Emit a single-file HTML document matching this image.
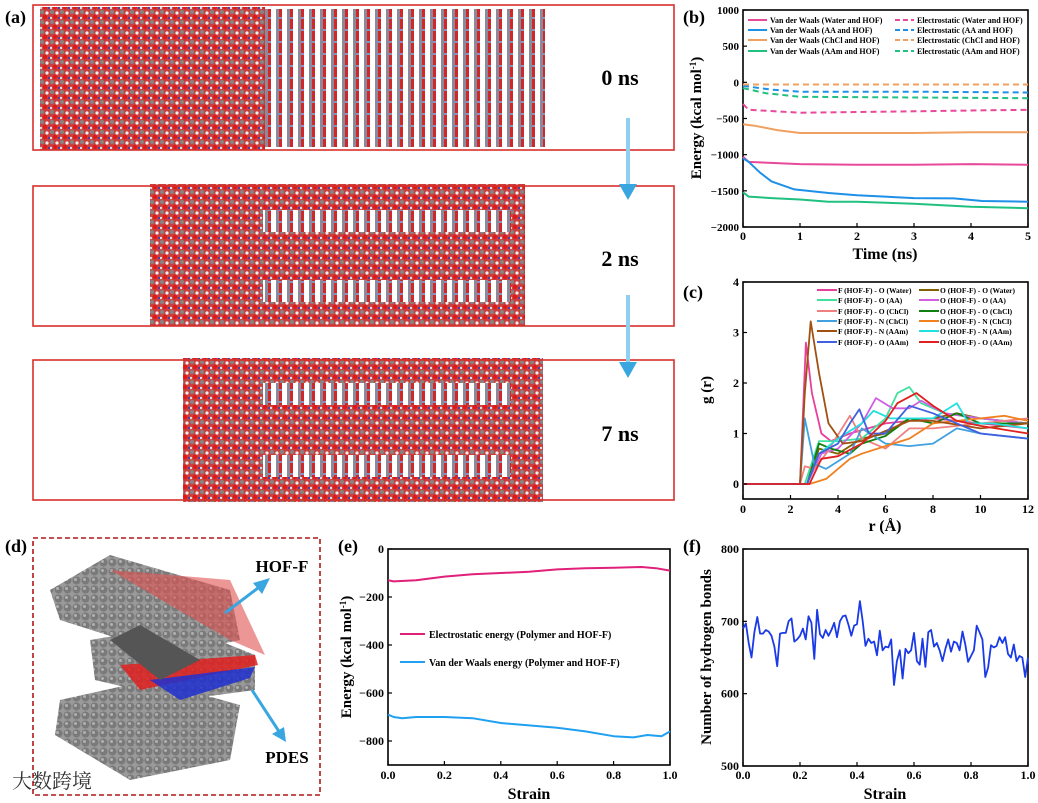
<!DOCTYPE html>
<html><head><meta charset="utf-8"><style>
html,body{margin:0;padding:0;background:#fff;}
svg{display:block;font-family:"Liberation Serif","Noto Serif CJK SC",serif;}
.t{font-weight:bold;fill:#000;}
</style></head><body>
<svg id="fig" width="1038" height="803" viewBox="0 0 1038 803" xmlns="http://www.w3.org/2000/svg">
<defs>
<pattern id="mol" width="10" height="10" patternUnits="userSpaceOnUse">
<rect width="10" height="10" fill="#c84040"/>
<circle cx="2" cy="2" r="2" fill="#858585"/>
<circle cx="7" cy="3" r="1.6" fill="#eeeeee"/>
<circle cx="5" cy="7" r="2.2" fill="#e01818"/>
<circle cx="1" cy="8" r="1.2" fill="#dddddd"/>
<circle cx="9" cy="8" r="1" fill="#3040c0"/>
</pattern>
<pattern id="hof" width="11" height="12" patternUnits="userSpaceOnUse">
<rect width="11" height="12" fill="#ffffff"/>
<rect x="1" width="3" height="12" fill="#8a8a9a"/>
<rect x="4" width="3" height="12" fill="#d02828"/>
<rect x="4" y="5" width="3" height="2" fill="#9090c0"/>
</pattern>
<pattern id="sph" width="9" height="9" patternUnits="userSpaceOnUse">
<rect width="9" height="9" fill="#9a9a9a"/>
<circle cx="4.5" cy="4.5" r="4" fill="#7a7a7a"/>
<circle cx="3.5" cy="3.5" r="1.5" fill="#b0b0b0"/>
</pattern>
</defs>
<g id="root"></g>
</svg>
<script>
// ---------- Panel b data ----------
const bVdwWaterT=[0,0.1,1,2,3,4,5];
const bVdwWaterV=[-1030,-1100,-1130,-1140,-1140,-1130,-1140];
const bVdwAAT=[0,0.1,0.3,0.5,0.9,1.5,2,3,3.7,4.2,5];
const bVdwAAV=[-1050,-1100,-1250,-1370,-1480,-1530,-1560,-1600,-1605,-1640,-1650];
const bVdwChClT=[0,0.2,0.6,1,2,3,4,5];
const bVdwChClV=[-580,-600,-660,-700,-700,-700,-690,-690];
const bVdwAAmT=[0,0.1,0.5,1,1.5,2,3,4,5];
const bVdwAAmV=[-1520,-1580,-1600,-1620,-1650,-1650,-1680,-1720,-1740];
const bElWaterT=[0,0.1,1,2,3,4,5];
const bElWaterV=[-300,-380,-420,-410,-400,-390,-380];
const bElAAT=[0,0.5,1,3,5];
const bElAAV=[-50,-100,-130,-130,-140];
const bElChClT=[0,1,2,3,4,5];
const bElChClV=[-30,-30,-30,-30,-30,-30];
const bElAAmT=[0,0.4,1,3,5];
const bElAAmV=[-80,-150,-200,-210,-220];
const bYTicks=[1000,500,0,-500,-1000,-1500,-2000];
const bXTicks=[0,1,2,3,4,5];
const bLegend=["Van der Waals (Water and HOF)","Van der Waals (AA and HOF)","Van der Waals (ChCl and HOF)","Van der Waals (AAm and HOF)","Electrostatic (Water and HOF)","Electrostatic (AA and HOF)","Electrostatic (ChCl and HOF)","Electrostatic (AAm and HOF)"];
// ---------- Panel c data ----------
const cNames=["F (HOF-F) - O (Water)","O (HOF-F) - O (Water)","F (HOF-F) - O (AA)","O (HOF-F) - O (AA)","F (HOF-F) - O (ChCl)","O (HOF-F) - O (ChCl)","F (HOF-F) - N (ChCl)","O (HOF-F) - N (ChCl)","F (HOF-F) - N (AAm)","O (HOF-F) - N (AAm)","F (HOF-F) - O (AAm)","O (HOF-F) - O (AAm)"];
const cR1=[0,2.4,2.65,2.9,3.3,3.7,4.5,6,8,10,12];
const cG1=[0,0,2.8,1.8,1.0,0.85,1.0,1.2,1.3,1.2,1.1];
const cR2=[0,2.7,3.2,4,5,6,7,8,9,10,12];
const cG2=[0,0,0.7,0.6,0.9,1.0,1.3,1.3,1.4,1.3,1.2];
const cR3=[0,2.6,3.2,4,5,6,6.5,7,7.5,8.5,10,12];
const cG3=[0,0,0.85,0.85,0.9,1.3,1.8,1.92,1.6,1.4,1.3,1.2];
const cR4=[0,2.7,3.3,4,5,5.6,6.3,7,7.5,8.5,10,12];
const cG4=[0,0,0.6,0.7,1.2,1.7,1.5,1.5,1.65,1.4,1.3,1.2];
const cR5=[0,2.4,2.6,3,3.5,4.5,5,6,7,8,10,12];
const cG5=[0,0,0.35,0.3,0.6,1.35,0.9,0.7,1.1,1.1,1.2,1.3];
const cR6=[0,2.7,3.2,3.7,4.5,5,6,7,8,9,10,12];
const cG6=[0,0,0.8,0.7,0.6,0.8,0.95,1.3,1.2,1.4,1.2,1.2];
const cR7=[0,2.4,2.6,3,3.5,4.5,5,6,7,8,9,10,12];
const cG7=[0,0,1.3,0.4,0.3,0.6,1.1,0.8,0.75,0.8,1.1,1.0,0.9];
const cR8=[0,2.8,3.5,4.5,5,6,7,8,10,11,12];
const cG8=[0,0,0.1,0.5,0.6,0.75,0.9,1.2,1.3,1.35,1.25];
const cR9=[0,2.4,2.6,2.85,3.2,3.6,4.2,5,6,7,8,10,12];
const cG9=[0,0,1.8,3.22,2.2,1.2,0.8,0.85,1.05,1.25,1.25,1.1,1.2];
const cR10=[0,2.7,3.2,4,5,5.5,6.2,7,8,9,9.5,10.5,12];
const cG10=[0,0,0.6,0.9,1.2,1.45,1.3,1.3,1.3,1.6,1.2,1.2,1.1];
const cR11=[0,2.7,3.2,4,4.5,4.9,5.3,6,7,8,9,10,12];
const cG11=[0,0,0.6,0.8,1.2,1.48,1.0,1.0,1.55,1.4,1.2,1.0,0.9];
const cR12=[0,2.8,3.3,4,5,6,6.5,7.3,8,9,10,12];
const cG12=[0,0,0.5,0.55,0.8,1.25,1.6,1.8,1.55,1.25,1.15,1.0];
const cYTicks=[0,1,2,3,4];
const cXTicks=[0,2,4,6,8,10,12];
// ---------- Panel e data ----------
const eElS=[0,0.02,0.1,0.2,0.3,0.4,0.5,0.6,0.7,0.8,0.9,0.95,1];
const eElV=[-130,-135,-130,-115,-105,-100,-95,-85,-80,-78,-75,-80,-90];
const eVdwS=[0,0.02,0.05,0.1,0.2,0.3,0.4,0.5,0.6,0.7,0.8,0.87,0.92,0.97,1];
const eVdwV=[-690,-700,-705,-700,-700,-705,-725,-735,-745,-760,-780,-785,-775,-780,-760];
const eYTicks=[0,-200,-400,-600,-800];
const eXTicks=[0,0.2,0.4,0.6,0.8,1.0];
// ---------- Panel f data ----------
const fHB=[690,697,670,650,685,706,683,683,688,686,680,665,638,683,684,684,700,704,672,675,680,690,675,707,698,648,716,682,677,688,680,688,698,678,700,707,708,695,680,694,696,728,700,666,676,670,672,653,687,660,665,664,675,612,645,660,621,662,656,660,684,645,640,676,637,685,688,665,670,660,645,662,675,658,672,670,660,686,668,644,652,660,694,685,675,623,636,667,664,666,678,670,678,655,650,668,645,652,650,623,650];
const fYTicks=[800,700,600,500];
const fXTicks=[0,0.2,0.4,0.6,0.8,1.0];

const NS="http://www.w3.org/2000/svg";
const root=document.getElementById('root');
function mk(tag,attrs,parent){const e=document.createElementNS(NS,tag);for(const k in attrs)e.setAttribute(k,attrs[k]);(parent||root).appendChild(e);return e;}
function txt(x,y,s,size,anchor,parent,extra){const e=mk('text',Object.assign({x:x,y:y,'font-size':size,'text-anchor':anchor||'start',class:'t'},extra||{}),parent);e.textContent=s;return e;}

const xb=t=>743+t*57, yb=v=>10+(1000-v)*0.07233;
const xc=r=>743+r*23.75, yc=g=>484-g*50.5;
const xe=s=>388+s*282, ye=v=>549-v*0.24;
const xf=s=>743+s*285, yf=v=>549+(800-v)*0.7233;

function frame(name,x0,y0,x1,y1){const g=mk('g',{});mk('rect',{x:x0,y:y0,width:x1-x0,height:y1-y0,fill:'none',stroke:'#000','stroke-width':1.6},g);return g;}
function line(xs,ys,fx,fy,color,dash,name,w){let d='';for(let i=0;i<xs.length;i++)d+=(i?'L':'M')+fx(xs[i]).toFixed(1)+','+fy(ys[i]).toFixed(1);const p=mk('path',{d:d,fill:'none',stroke:color,'stroke-width':w||2,'stroke-linejoin':'round'});if(dash)p.setAttribute('stroke-dasharray',dash);return p;}
function yticks(ticks,fy,x0,fmt,size){const g=mk('g',{});ticks.forEach(v=>{const y=fy(v);mk('line',{x1:x0,y1:y,x2:x0+4,y2:y,stroke:'#000','stroke-width':1.2},g);txt(x0-4,y+4,fmt?fmt(v):String(v).replace('-','\u2212'),size||12,'end',g);});}
function xticks(ticks,fx,y1,ylab,fmt,size){const g=mk('g',{});ticks.forEach(v=>{const x=fx(v);mk('line',{x1:x,y1:y1,x2:x,y2:y1-4,stroke:'#000','stroke-width':1.2},g);txt(x,ylab,fmt?fmt(v):String(v),size||12,'middle',g);});}

// ===== Panel labels =====
[['(a)',5,23],['(b)',683,23],['(c)',683,298],['(d)',5,552],['(e)',338,552],['(f)',683,552]].forEach(l=>{const e=txt(l[1],l[2],l[0],18,'start');});

// ===== Panel a =====
const pa=mk('g',{});
mk('rect',{x:40,y:7,width:225,height:143,fill:'url(#mol)'},pa);
mk('rect',{x:265,y:9,width:280,height:138,fill:'url(#hof)'},pa);
mk('rect',{x:150,y:184,width:375,height:142,fill:'url(#mol)'},pa);
mk('rect',{x:263,y:210,width:248,height:22,fill:'url(#hof)'},pa);
mk('rect',{x:263,y:280,width:248,height:22,fill:'url(#hof)'},pa);
mk('rect',{x:183,y:358,width:360,height:144,fill:'url(#mol)'},pa);
mk('rect',{x:263,y:383,width:248,height:22,fill:'url(#hof)'},pa);
mk('rect',{x:263,y:455,width:248,height:22,fill:'url(#hof)'},pa);
[[5,150],[186,326],[360,500]].forEach((b,i)=>{const r=mk('rect',{x:33,y:b[0],width:641,height:b[1]-b[0],fill:'none',stroke:'#d8302a','stroke-width':1.6},pa);});
[['0 ns',85],['2 ns',266],['7 ns',441]].forEach(l=>{const e=txt(620,l[1],l[0],22,'middle',pa);});
[[118,200],[295,378]].forEach(a=>{const g=mk('g',{},pa);mk('rect',{x:626,y:a[0],width:4,height:a[1]-a[0]-14,fill:'#8fd0f0'},g);mk('polygon',{points:`619,${a[1]-16} 637,${a[1]-16} 628,${a[1]}`,fill:'#3aa6e0'},g);});

// ===== Panel b =====
frame('panel-b-plot-frame',743,10,1028,227);
line(bVdwWaterT,bVdwWaterV,xb,yb,'#e8499a',null,'vdw-water-line');
line(bVdwAAT,bVdwAAV,xb,yb,'#1e90e8',null,'vdw-aa-line');
line(bVdwChClT,bVdwChClV,xb,yb,'#f0a060',null,'vdw-chcl-line');
line(bVdwAAmT,bVdwAAmV,xb,yb,'#20c080',null,'vdw-aam-line');
line(bElWaterT,bElWaterV,xb,yb,'#e8499a','6,4','elec-water-line');
line(bElAAT,bElAAV,xb,yb,'#1e90e8','6,4','elec-aa-line');
line(bElChClT,bElChClV,xb,yb,'#f0a060','6,4','elec-chcl-line');
line(bElAAmT,bElAAmV,xb,yb,'#20c080','6,4','elec-aam-line');
yticks(bYTicks,yb,743,null,11);
xticks(bXTicks,xb,227,240,null,12);
{const e=txt(885,259,'Time (ns)',16,'middle');}
{const e=txt(0,0,'',15,'middle',null,{transform:'translate(701,118) rotate(-90)'});e.innerHTML='Energy (kcal mol<tspan dy="-5" font-size="9">-1</tspan><tspan dy="5">)</tspan>';}
const bCols=['#e8499a','#1e90e8','#f0a060','#20c080'];
const bLeg=mk('g',{});
bLegend.forEach((s,i)=>{const col=i%4,y=[23,33,43,54][col];const x=i<4?748:895;mk('line',{x1:x,y1:y-3,x2:x+19,y2:y-3,stroke:bCols[col],'stroke-width':2,'stroke-dasharray':i<4?'none':'5,3'},bLeg);txt(x+22,y,s,8,'start',bLeg);});

// ===== Panel c =====
frame('panel-c-plot-frame',743,282,1028,499);
const cCols=['#e8409a','#806000','#40e0a0','#d060e0','#f08080','#108010','#40a0e0','#f08020','#a05010','#20e0e0','#4060e0','#e02020'];
const cRs=[cR1,cR2,cR3,cR4,cR5,cR6,cR7,cR8,cR9,cR10,cR11,cR12];
const cGs=[cG1,cG2,cG3,cG4,cG5,cG6,cG7,cG8,cG9,cG10,cG11,cG12];
cRs.forEach((r,i)=>line(r,cGs[i],xc,yc,cCols[i],null,'rdf-line-'+(i+1),1.8));
yticks(cYTicks,yc,743,null,12);
xticks(cXTicks,xc,499,513,null,12);
{const e=txt(885,531,'r (Å)',16,'middle');}
{const e=txt(0,0,'g (r)',15,'middle',null,{transform:'translate(711,390) rotate(-90)'});}
const cLeg=mk('g',{});
cNames.forEach((s,i)=>{const row=Math.floor(i/2),y=[293,303,314,324,334,345][row];const x=i%2?919:817;mk('line',{x1:x,y1:y-3,x2:x+20,y2:y-3,stroke:cCols[i],'stroke-width':2},cLeg);txt(x+21,y,s,7.5,'start',cLeg);});

// ===== Panel d =====
const pd=mk('g',{});
mk('polygon',{points:'50,590 110,555 230,590 240,640 170,655 60,620',fill:'url(#sph)'},pd);
mk('polygon',{points:'60,700 150,680 240,705 230,760 130,780 55,735',fill:'url(#sph)'},pd);
mk('polygon',{points:'90,640 180,625 255,655 255,690 180,700 95,680',fill:'url(#sph)'},pd);
mk('polygon',{points:'110,570 230,580 265,655 230,640',fill:'#e05050',opacity:0.6},pd);
mk('polygon',{points:'120,665 255,655 258,665 140,690',fill:'#e02020',opacity:0.85},pd);
mk('polygon',{points:'150,680 255,667 250,678 180,700',fill:'#2030d0',opacity:0.85},pd);
mk('polygon',{points:'110,640 140,625 200,660 160,680',fill:'#555'},pd);
mk('rect',{x:33,y:538,width:287,height:257,fill:'none',stroke:'#b01818','stroke-width':1.6,'stroke-dasharray':'5,3'},pd);
mk('line',{x1:225,y1:613,x2:262,y2:585,stroke:'#3aa6e0','stroke-width':3},pd);
mk('polygon',{points:'270,578 253,583 262,594',fill:'#3aa6e0'},pd);
mk('line',{x1:252,y1:690,x2:280,y2:733,stroke:'#3aa6e0','stroke-width':3},pd);
mk('polygon',{points:'286,742 272,734 284,727',fill:'#3aa6e0'},pd);
{const e=txt(282,572,'HOF-F',17,'middle',pd);}
{const e=txt(287,763,'PDES',17,'middle',pd);}
{const e=txt(12,788,'大数跨境',20,'start',pd,{fill:'#cccccc',opacity:0.8,style:'font-weight:normal'});}

// ===== Panel e =====
frame('panel-e-plot-frame',388,549,670,765);
line(eElS,eElV,xe,ye,'#e0207a',null,'electrostatic-energy-line');
line(eVdwS,eVdwV,xe,ye,'#20a0f0',null,'vdw-energy-line');
yticks(eYTicks,ye,388,null,12);
xticks(eXTicks,xe,765,779,v=>v.toFixed(1),12);
{const e=txt(529,799,'Strain',16,'middle');}
{const e=txt(0,0,'',15,'middle',null,{transform:'translate(351,657) rotate(-90)'});e.innerHTML='Energy (kcal mol<tspan dy="-5" font-size="9">-1</tspan><tspan dy="5">)</tspan>';}
const eLeg=mk('g',{});
mk('line',{x1:400,y1:634,x2:425,y2:634,stroke:'#e0207a','stroke-width':2},eLeg);txt(429,638,'Electrostatic energy (Polymer and HOF-F)',10,'start',eLeg);
mk('line',{x1:400,y1:662,x2:425,y2:662,stroke:'#20a0f0','stroke-width':2},eLeg);txt(429,666,'Van der Waals energy (Polymer and HOF-F)',10,'start',eLeg);

// ===== Panel f =====
frame('panel-f-plot-frame',743,549,1028,766);
const fS=fHB.map((v,i)=>i/(fHB.length-1));
line(fS,fHB,xf,yf,'#1a3ae8',null,'hydrogen-bonds-line',1.8);
yticks(fYTicks,yf,743,null,12);
xticks(fXTicks,xf,766,779,v=>v.toFixed(1),12);
{const e=txt(885,799,'Strain',16,'middle');}
{const e=txt(0,0,'Number of hydrogen bonds',15,'middle',null,{transform:'translate(711,657) rotate(-90)'});}
</script>
</body></html>
